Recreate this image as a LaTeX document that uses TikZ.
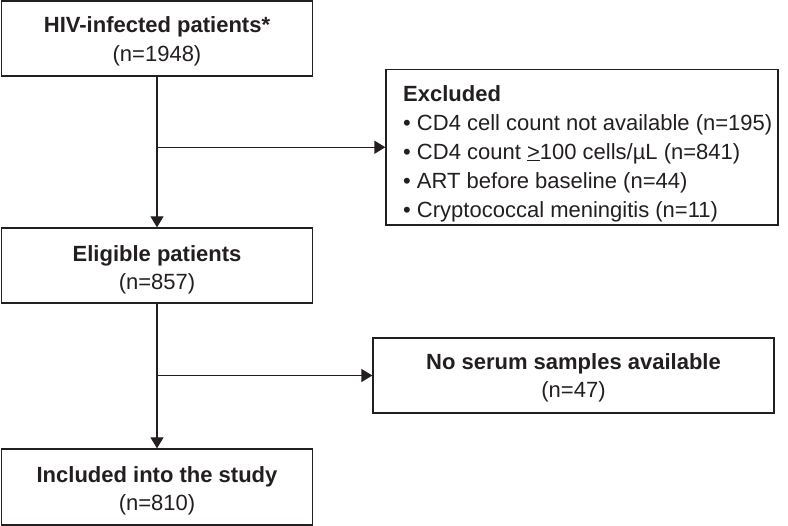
\documentclass[tikz,border=0pt]{standalone}
\usepackage{fontspec}
\setmainfont{Liberation Sans}
\usetikzlibrary{arrows.meta}
\definecolor{ink}{RGB}{35,31,32}
\newcommand{\lifth}[1]{\rule{0pt}{#1}}
\begin{document}
\begin{tikzpicture}[x=1pt,y=-1pt,
  flowbox/.style={draw=ink, line width=1.3pt, text=ink, align=center, inner sep=0pt},
  listtext/.style={text=ink, align=left, inner sep=0pt, anchor=north west,
    font=\fontsize{22}{29}\selectfont},
  arr/.style={draw=ink, line width=1.3pt, -{Triangle[length=11pt,width=13pt]}}]
\useasboundingbox (0,0) rectangle (788,526);
\node[flowbox, minimum width=311.5pt, minimum height=75pt,
  font=\fontsize{22}{29}\selectfont] (hiv) at (157,38.5)
  {\lifth{22pt}\textbf{HIV-infected patients*}\\(n=1948)};
\node[flowbox, minimum width=392pt, minimum height=155.5pt] (ex) at (582,147.25) {};
\node[listtext] (extext) at (403,81)
  {\lifth{20pt}\textbf{Excluded}\\
   • CD4 cell count not available (n=195)\\
   • CD4 count \underline{>}100 cells/µL (n=841)\\
   • ART before baseline (n=44)\\
   • Cryptococcal meningitis (n=11)};
\node[flowbox, minimum width=311.5pt, minimum height=75pt,
  font=\fontsize{22}{28}\selectfont] (elig) at (157,265.5)
  {\lifth{23.6pt}\textbf{Eligible patients}\\(n=857)};
\node[flowbox, minimum width=401pt, minimum height=75pt,
  font=\fontsize{22}{28}\selectfont] (ns) at (573.5,375.5)
  {\lifth{19.6pt}\textbf{No serum samples available}\\(n=47)};
\node[flowbox, minimum width=311.5pt, minimum height=76pt,
  font=\fontsize{22}{28}\selectfont] (inc) at (157,487)
  {\lifth{22.6pt}\textbf{Included into the study}\\(n=810)};
\draw[arr] (hiv.south) -- (elig.north);
\draw[arr] (hiv.south |- ex.west) -- (ex.west);
\draw[arr] (elig.south) -- (inc.north);
\draw[arr] (elig.south |- ns.west) -- (ns.west);
\end{tikzpicture}
\end{document}
